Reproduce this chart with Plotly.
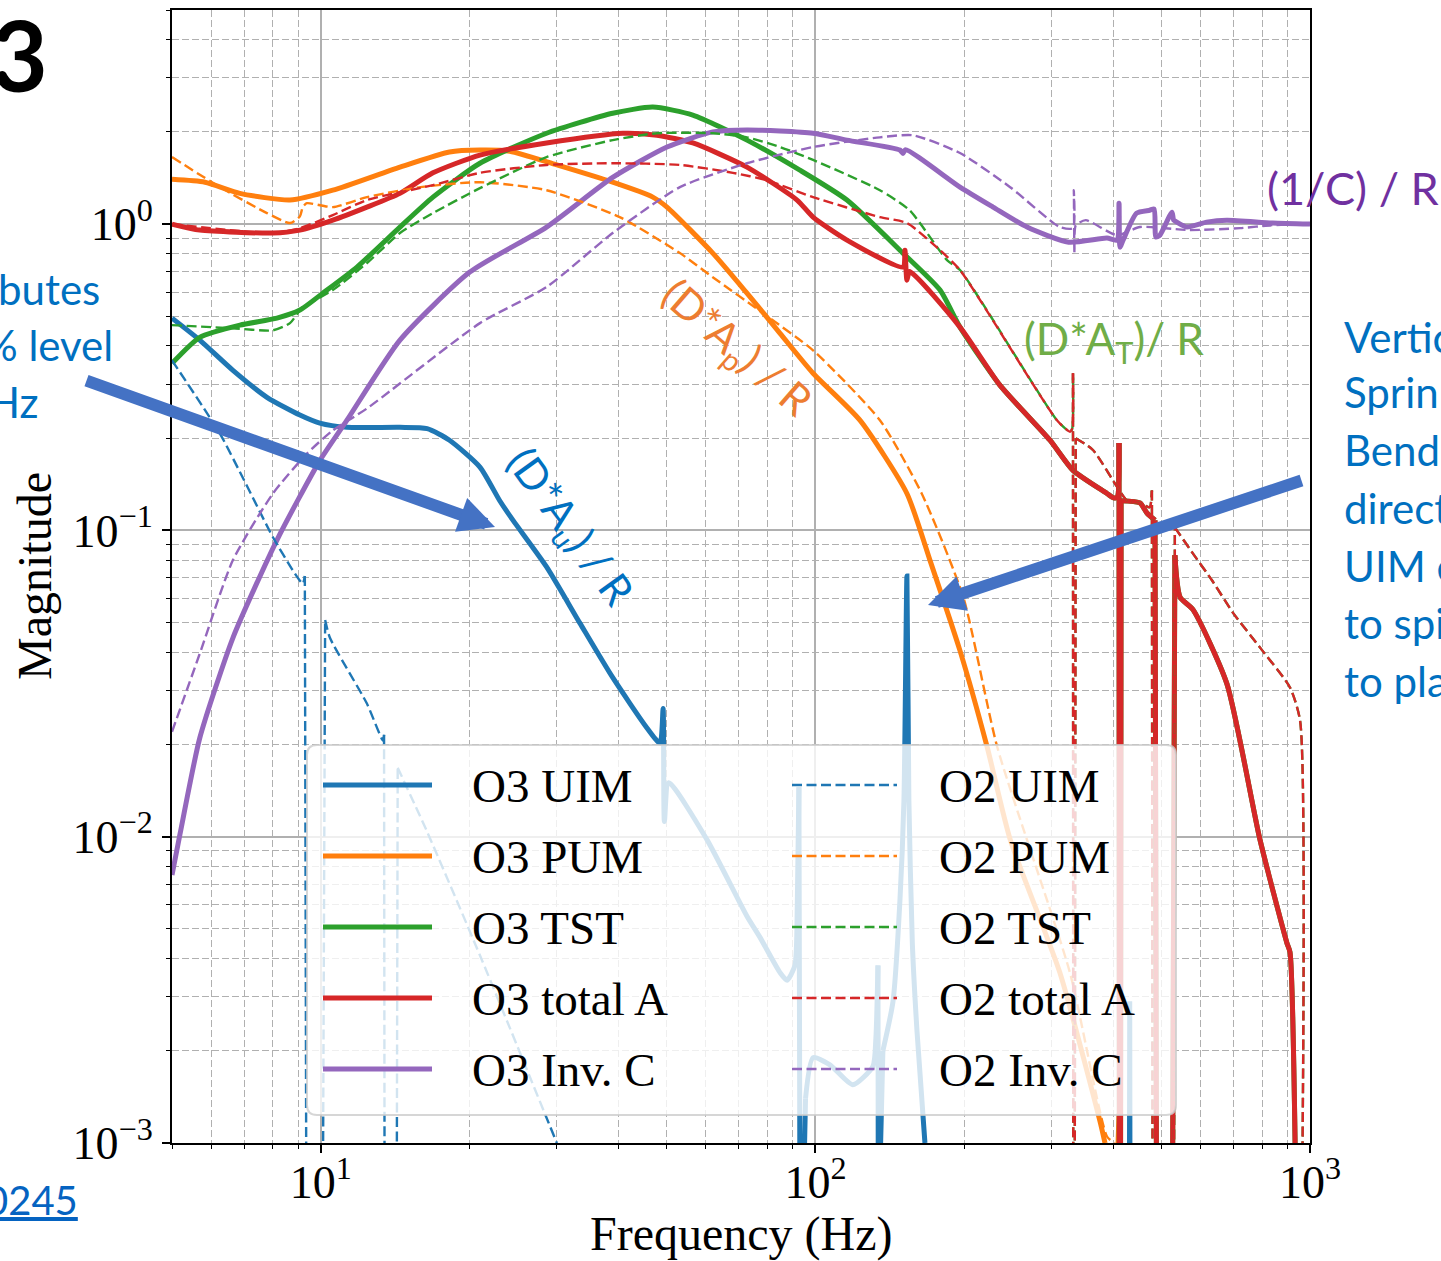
import plotly.graph_objects as go

# ---------------- data ----------------
LOW = 1e-4   # just below the bottom of the axis (edge of a notch)
DEEP = 1e-6  # bottom of a notch, far below the axis

o3_uim_f = [5.0, 5.69, 6.64, 7.78, 9.07, 9.95, 11.29, 14.45, 16.4, 18.2, 20.97, 23.0, 24.45, 28.6,
            33.4, 38.9, 45.6, 48.5, 49.2, 49.5, 50.5, 60.3, 72.7, 77.2, 84.8, 87.6, 90.9, 91.9,
            92.6, 93.3, 94.2, 95.5, 98.9, 107, 119, 130.7, 132.5, 133.8, 134.2, 135.0, 136.9,
            143.5, 148.2, 151, 153.1, 154.5, 157, 160.5, 166.5, 175, 429, 432, 435, 1000]
o3_uim_m = [0.493, 0.418, 0.333, 0.272, 0.238, 0.224, 0.217, 0.217, 0.215, 0.197, 0.161, 0.125,
            0.108, 0.076, 0.0498, 0.0331, 0.0227, 0.0202, 0.0262, 0.0112, 0.0150, 0.0098, 0.0055,
            0.0047, 0.0036, 0.0034, 0.0038, 0.0060, 0.0145, LOW, 0.0005, 0.0014, 0.0019, 0.0018,
            0.00155, 0.00178, 0.0022, 0.0038, LOW, 0.0008, 0.0020, 0.0029, 0.0062, 0.0132, 0.071,
            0.0132, 0.0045, 0.0023, 0.0010, 0.0002, DEEP, 0.0029, DEEP, DEEP]

o2_uim_f = [5.0, 6.25, 6.99, 8.0, 8.78, 9.19, 9.28, 9.37, 9.7, 10.05, 10.2, 10.43, 12.39, 13.35,
            13.42, 13.47, 13.85, 14.2, 14.3, 16.39, 20.97, 30.0, 35.0]
o2_uim_m = [0.359, 0.207, 0.146, 0.095, 0.074, 0.067, 0.071, LOW, DEEP, LOW, 0.051, 0.0446,
            0.0272, 0.0206, 0.0215, LOW, DEEP, LOW, 0.0168, 0.0104, 0.0041, 0.001, 0.0005]

o3_pum_f = [5.0, 5.83, 6.86, 8.66, 10.57, 14.45, 18.2, 20.97, 24.1, 30, 38.9, 46.9, 50.1, 62,
            72.7, 84.8, 98.9, 123, 153.1, 170.4, 196, 222.3, 247.6, 312, 376, 385, 405, 411,
            415, 1000]
o3_pum_m = [1.40, 1.37, 1.26, 1.198, 1.29, 1.535, 1.72, 1.745, 1.73, 1.56, 1.37, 1.225, 1.136,
            0.804, 0.595, 0.44, 0.326, 0.229, 0.132, 0.080, 0.0405, 0.0197, 0.0098, 0.0036,
            0.00118, 0.001, 0.0006, 0.00125, 0.0005, 0.0003]

o2_pum_f = [5.0, 6.25, 7.78, 8.66, 9.07, 9.19, 9.37, 10.57, 12.39, 15.9, 20.97, 28.6, 40.2, 53.2,
            62, 78.3, 98.9, 135, 164, 199, 233, 327, 388.6, 402, 500]
o2_pum_m = [1.655, 1.32, 1.086, 1.008, 1.06, 1.136, 1.17, 1.136, 1.225, 1.32, 1.37, 1.29, 1.054,
            0.804, 0.671, 0.512, 0.387, 0.229, 0.132, 0.0606, 0.0197, 0.0036, 0.00105, 0.001,
            0.0004]

# high-frequency part shared by O3 TST and O3 total A (the two curves coincide there)
o3_hf_f = [196, 236, 298, 331.7, 388.6, 399.6, 407, 411, 412.5, 415, 453, 468, 486, 490.6, 508,
           525, 533, 546, 580, 679, 792, 898, 911, 933, 945, 1000]
o3_hf_m = [0.461, 0.298, 0.197, 0.157, 0.132, 0.128, 0.128, 0.193, DEEP, 0.125, 0.123, 0.114,
           0.108, LOW, DEEP, LOW, 0.083, 0.0606, 0.0551, 0.0316, 0.0098, 0.0045, 0.0042, 0.001,
           DEEP, DEEP]

o3_tst_f = [5.0, 5.69, 6.86, 8.15, 9.07, 10.09, 11.83, 14.45, 16.85, 20.97, 28.6, 38.9, 46.9,
            56.5, 72.7, 93, 115.8, 150.3, 178.6] + o3_hf_f
o3_tst_m = [0.351, 0.427, 0.468, 0.493, 0.524, 0.595, 0.724, 0.978, 1.225, 1.58, 1.98, 2.30,
            2.41, 2.27, 1.88, 1.50, 1.198, 0.804, 0.609] + o3_hf_m

o3_tot_f = [5.0, 5.69, 8.0, 9.07, 10.57, 12.39, 14.45, 16.85, 20.97, 28.6, 40.8, 47.8, 56.5,
            72.7, 91.8, 98.9, 115.8, 150.3, 151.7, 153.1, 155] + o3_hf_f
o3_tot_m = [1.0, 0.956, 0.935, 0.956, 1.03, 1.136, 1.26, 1.47, 1.68, 1.84, 1.98, 1.95, 1.84,
            1.535, 1.198, 1.054, 0.887, 0.724, 0.822, 0.656, 0.70] + o3_hf_m

# high-frequency part shared by O2 TST and O2 total A
o2_hf_f = [196, 307.8, 327, 330.5, 331.7, 332.6, 336, 364, 407, 427, 453, 474, 479, 481, 505,
           530, 533, 538, 580, 634, 700, 792, 911, 955, 966, 975, 1000]
o2_hf_m = [0.708, 0.229, 0.21, 0.215, 0.326, DEEP, 0.2, 0.183, 0.139, 0.125, 0.123, 0.119, 0.135,
           LOW, DEEP, LOW, 0.102, 0.1, 0.084, 0.0686, 0.0536, 0.0415, 0.0307, 0.0239, 0.001,
           DEEP, DEEP]

o2_tst_f = [5.0, 6.64, 8.0, 8.66, 9.07, 9.19, 10.57, 12.39, 14.45, 16.85, 20.97, 28.6, 38.9,
            47.8, 62, 72.7, 84.8, 98.9, 135, 155, 184.5] + o2_hf_f
o2_tst_m = [0.468, 0.457, 0.45, 0.475, 0.524, 0.536, 0.609, 0.746, 0.935, 1.086, 1.31, 1.655,
            1.88, 1.98, 1.98, 1.92, 1.785, 1.62, 1.29, 1.11, 0.763] + o2_hf_m

o2_tot_f = [5.0, 8.0, 9.07, 10.57, 12.39, 16.85, 20.97, 28.6, 38.9, 53.2, 68.1, 79.8, 98.9, 135,
            153.1, 178.6] + o2_hf_f
o2_tot_m = [1.0, 0.935, 0.97, 1.07, 1.198, 1.34, 1.47, 1.56, 1.58, 1.56, 1.47, 1.39, 1.225,
            1.054, 1.008, 0.822] + o2_hf_m

o3_invc_f = [5.0, 5.19, 5.69, 6.64, 8.15, 9.95, 11.29, 14.45, 20, 28.6, 38.9, 50.1, 62, 72.7,
             98.9, 115.8, 148.2, 150.3, 152, 196, 228.6, 267.8, 325, 388.6, 407, 411, 413, 419,
             446, 474, 484, 488, 497, 526, 530, 538, 564, 618, 679, 840, 1000]
o3_invc_m = [0.0075, 0.0102, 0.021, 0.0446, 0.093, 0.169, 0.229, 0.418, 0.697, 0.978, 1.42,
             1.785, 2.0, 2.03, 1.98, 1.88, 1.745, 1.70, 1.75, 1.32, 1.136, 0.978, 0.873, 0.90,
             0.887, 1.17, 0.841, 0.887, 1.086, 1.11, 1.12, 0.907, 0.92, 1.094, 1.03, 1.015,
             0.978, 1.015, 1.03, 1.008, 1.0]

o2_invc_f = [5.0, 5.69, 6.64, 8.0, 9.37, 10.57, 12.39, 20.97, 28.6, 38.9, 53.2, 72.7, 98.9, 135,
             157.5, 196, 247.6, 312, 331.7, 333, 334, 336, 352, 407, 453, 571, 722, 840, 1000]
o2_invc_m = [0.022, 0.0396, 0.080, 0.132, 0.178, 0.212, 0.25, 0.475, 0.623, 0.935, 1.32, 1.58,
             1.785, 1.92, 1.95, 1.706, 1.32, 0.978, 0.97, 1.29, 0.804, 0.99, 1.03, 0.92, 0.978,
             0.956, 0.97, 0.992, 1.0]

names = ["O3 UIM", "O3 PUM", "O3 TST", "O3 total A", "O3 Inv. C",
         "O2 UIM", "O2 PUM", "O2 TST", "O2 total A", "O2 Inv. C"]
freqs = [o3_uim_f, o3_pum_f, o3_tst_f, o3_tot_f, o3_invc_f,
         o2_uim_f, o2_pum_f, o2_tst_f, o2_tot_f, o2_invc_f]
mags = [o3_uim_m, o3_pum_m, o3_tst_m, o3_tot_m, o3_invc_m,
        o2_uim_m, o2_pum_m, o2_tst_m, o2_tot_m, o2_invc_m]
colors = ["#1f77b4", "#ff7f0e", "#2ca02c", "#d62728", "#9467bd"] * 2

x_major = [10, 100, 1000]
x_major_text = ["10<sup>1</sup>", "10<sup>2</sup>", "10<sup>3</sup>"]
y_major = [0.001, 0.01, 0.1, 1]
y_major_text = ["10<sup>\u22123</sup>", "10<sup>\u22122</sup>", "10<sup>\u22121</sup>", "10<sup>0</sup>"]
Y_FLOOR = 1e-3  # bottom of the axis

# ---------------- layout geometry ----------------
W, H = 1441, 1261
ML, MR, MT, MB = 172, 131, 10, 118
PW, PH = W - ML - MR, H - MT - MB


def px(x):
    return (x - ML) / PW


def py(y):
    return (H - MB - y) / PH


SERIF = "Liberation Serif"
SANS = "Lato"
DASH = "10px,4.5px"


def runs(m):
    """Split point indices into smooth runs (spline) and notch runs (straight lines)."""
    n = len(m)
    below = [v < Y_FLOOR for v in m]
    lin = [below[i] or (i > 0 and below[i - 1]) or (i < n - 1 and below[i + 1]) for i in range(n)]
    out = []
    i = 0
    while i < n:
        j = i
        while j + 1 < n and lin[j + 1] == lin[i]:
            j += 1
        if lin[i]:
            out.append((i, j, "linear"))
        else:
            out.append((max(i - 1, 0), min(j + 1, n - 1), "spline"))
        i = j + 1
    return out


fig = go.Figure()
for k, (nm, f, m, c) in enumerate(zip(names, freqs, mags, colors)):
    solid = k < 5
    for a, b, shape in runs(m):
        if b <= a:
            continue
        fig.add_trace(go.Scatter(
            x=f[a:b + 1], y=m[a:b + 1], mode="lines", name=nm, showlegend=False,
            hoverinfo="skip",
            line=dict(color=c, width=5 if solid else 2.4, dash="solid" if solid else DASH,
                      shape=shape, smoothing=0.6 if shape == "spline" else None,
                      simplify=False)))

x_minor = [k * 10 ** e for e in (0, 1, 2) for k in range(2, 10) if 5 <= k * 10 ** e <= 1000]
y_minor = [k * 10.0 ** e for e in (-3, -2, -1, 0) for k in range(2, 10) if k * 10.0 ** e <= 5]

axis_common = dict(
    type="log", showline=True, linecolor="black", linewidth=2, mirror=True,
    ticks="outside", ticklen=8, tickwidth=1.5, tickcolor="black",
    showgrid=True, gridcolor="#b0b0b0", gridwidth=1.5, zeroline=False,
    tickfont=dict(family=SERIF, size=46, color="black"), automargin=False,
    tickmode="array",
)
fig.update_xaxes(**axis_common, range=[0.69897, 3], tickvals=x_major, ticktext=x_major_text,
                 ticklabelstandoff=-10,
                 minor=dict(tickmode="array", tickvals=x_minor, ticks="outside", ticklen=4,
                            tickwidth=1, tickcolor="black", showgrid=True,
                            gridcolor="#b0b0b0", gridwidth=1, griddash="7px,3px"))
fig.update_yaxes(**axis_common, range=[-3, 0.69897], tickvals=y_major, ticktext=y_major_text,
                 minor=dict(tickmode="array", tickvals=y_minor, ticks="outside", ticklen=4,
                            tickwidth=1, tickcolor="black", showgrid=True,
                            gridcolor="#b0b0b0", gridwidth=1, griddash="7px,3px"))

shapes = []
annotations = []

# ---- manual legend (two columns, semi-transparent box) ----
bx0, by0, bx1, by1, r = 307, 745, 1176, 1115, 10
pts = lambda x, y: f"{px(x):.5f},{py(y):.5f}"
path = (f"M {pts(bx0 + r, by0)} L {pts(bx1 - r, by0)} Q {pts(bx1, by0)} {pts(bx1, by0 + r)} "
        f"L {pts(bx1, by1 - r)} Q {pts(bx1, by1)} {pts(bx1 - r, by1)} "
        f"L {pts(bx0 + r, by1)} Q {pts(bx0, by1)} {pts(bx0, by1 - r)} "
        f"L {pts(bx0, by0 + r)} Q {pts(bx0, by0)} {pts(bx0 + r, by0)} Z")
shapes.append(dict(type="path", path=path, xref="paper", yref="paper", layer="above",
                   fillcolor="rgba(255,255,255,0.8)", line=dict(color="rgba(204,204,204,0.8)", width=2)))
row_y = [785, 856, 927, 998, 1069]
for i, nm in enumerate(names):
    col, row = divmod(i, 5)
    lx0, lx1, tx = (323, 432, 470) if col == 0 else (792, 897, 937)
    yy = row_y[row]
    shapes.append(dict(type="line", xref="paper", yref="paper", layer="above",
                       x0=px(lx0), x1=px(lx1), y0=py(yy), y1=py(yy),
                       line=dict(color=colors[i], width=5 if col == 0 else 2.5,
                                 dash="solid" if col == 0 else DASH)))
    annotations.append(dict(text=nm, x=px(tx), y=py(yy + 1), xref="paper", yref="paper",
                            xanchor="left", yanchor="middle", showarrow=False,
                            font=dict(family=SERIF, size=47, color="black")))

# ---- axis titles ----
annotations.append(dict(text="Frequency (Hz)", x=px(741), y=py(1234), xref="paper", yref="paper",
                        xanchor="center", yanchor="middle", showarrow=False,
                        font=dict(family=SERIF, size=48, color="black")))
annotations.append(dict(text="Magnitude", x=px(35), y=py(576), xref="paper", yref="paper",
                        xanchor="center", yanchor="middle", showarrow=False, textangle=-90,
                        font=dict(family=SERIF, size=48, color="black")))

# ---- curve labels ----
annotations += [
    dict(text="(1/C) / R", x=px(1265), y=py(188), xanchor="left",
         font=dict(family=SANS, size=45, color="#7030A0")),
    dict(text="(D*A<sub>T</sub>)/ R", x=px(1022), y=py(342), xanchor="left",
         font=dict(family=SANS, size=44, color="#70AD47")),
    dict(text="(D*A<sub>p</sub>) / R", x=px(736), y=py(349), xanchor="center", textangle=41,
         font=dict(family=SANS, size=42, color="#ED7D31")),
    dict(text="(D*A<sub>u</sub>) / R", x=px(569), y=py(528), xanchor="center", textangle=54,
         font=dict(family=SANS, size=42, color="#0070C0")),
]

# ---- slide text around the chart ----
BLUE = "#0070C0"
annotations += [
    dict(text="<b>3</b>", x=px(50), y=py(54), xanchor="right",
         font=dict(family=SANS, size=98, color="black")),
    dict(text="butes", x=px(102), y=py(289), xanchor="right", font=dict(family=SANS, size=42, color=BLUE)),
    dict(text="% level", x=px(115), y=py(345), xanchor="right", font=dict(family=SANS, size=42, color=BLUE)),
    dict(text="Hz", x=px(41), y=py(402), xanchor="right", font=dict(family=SANS, size=42, color=BLUE)),
    dict(text="<u>0245</u>", x=px(80), y=py(1200), xanchor="right",
         font=dict(family=SANS, size=40, color="#0563C1")),
]
for txt, yy in [("Vertic", 337), ("Sprin", 392), ("Bend", 450), ("direct", 508),
                ("UIM c", 566), ("to spi", 623), ("to pla", 681)]:
    annotations.append(dict(text=txt, x=px(1342), y=py(yy), xanchor="left",
                            font=dict(family=SANS, size=42, color=BLUE)))
for a in annotations:
    a.setdefault("xref", "paper")
    a.setdefault("yref", "paper")
    a.setdefault("yanchor", "middle")
    a.setdefault("showarrow", False)

# ---- big blue arrows ----
ARROW = "#4472C4"
for (hx, hy), (tx_, ty_) in [((495, 527), (85, 380)), ((928, 605), (1303, 480))]:
    annotations.append(dict(x=px(hx), y=py(hy), xref="paper", yref="paper", text="",
                            showarrow=True, arrowhead=2, arrowsize=0.6, arrowwidth=12,
                            arrowcolor=ARROW, ax=tx_ - hx, ay=ty_ - hy,
                            axref="pixel", ayref="pixel", standoff=0))

fig.update_layout(
    width=W, height=H, margin=dict(l=ML, r=MR, t=MT, b=MB, pad=0),
    paper_bgcolor="white", plot_bgcolor="white", showlegend=False,
    shapes=shapes, annotations=annotations,
)

fig.write_html("out.html", config={"displayModeBar": False},
               post_script="document.body.style.margin='0';document.body.style.overflow='hidden';")
